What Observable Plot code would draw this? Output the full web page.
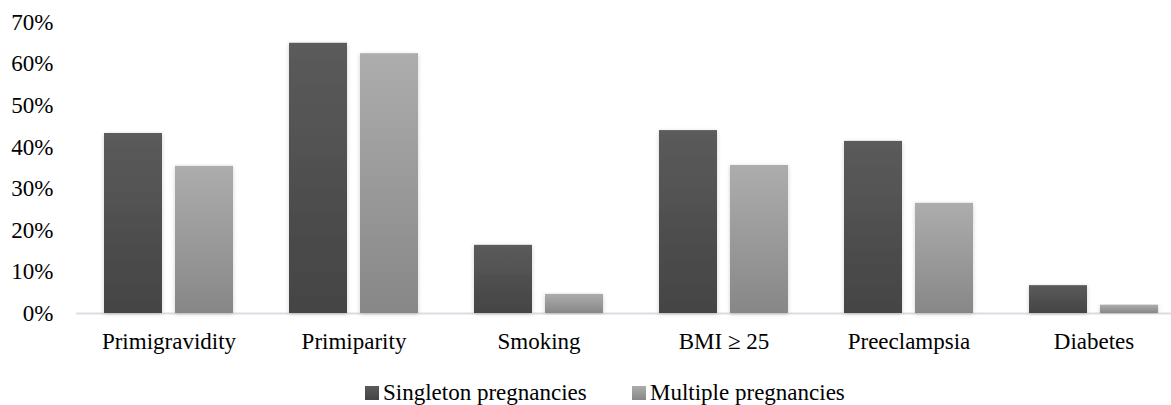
<!DOCTYPE html>
<html>
<head>
<meta charset="utf-8">
<script src="https://cdn.jsdelivr.net/npm/d3@7"></script>
<script src="https://cdn.jsdelivr.net/npm/@observablehq/plot@0.6"></script>
<style>
  html, body { margin: 0; padding: 0; background: #fff; }
  body { width: 1171px; height: 405px; overflow: hidden; font-family: "Liberation Serif", "Times New Roman", serif; }
  #chart svg { display: block; overflow: visible; }
  #legend { position: relative; height: 55px; font-size: 23px; color: #000; font-family: "Liberation Serif", "Times New Roman", serif; }
  .item { position: absolute; top: 30px; display: flex; align-items: center; white-space: nowrap; }
  .sw { width: 14px; height: 14px; margin-right: 4px; }
</style>
</head>
<body>
<div id="chart"></div>
<div id="legend"></div>
<script>
const categories = ["Primigravidity", "Primiparity", "Smoking", "BMI \u2265 25", "Preeclampsia", "Diabetes"];
const seriesNames = ["Singleton pregnancies", "Multiple pregnancies"];
const singleton = [0.433, 0.650, 0.164, 0.440, 0.414, 0.067];
const multiple = [0.354, 0.625, 0.046, 0.356, 0.265, 0.020];
const yTicks = [0, 0.1, 0.2, 0.3, 0.4, 0.5, 0.6, 0.7];

const rows = [];
categories.forEach((c, i) => {
  rows.push({category: c, series: seriesNames[0], value: singleton[i]});
  rows.push({category: c, series: seriesNames[1], value: multiple[i]});
});

const plot = Plot.plot({
  width: 1171,
  height: 350,
  marginTop: 22,
  marginBottom: 37,
  marginLeft: 76,
  marginRight: 0,
  style: {fontFamily: "'Liberation Serif', 'Times New Roman', serif", fontSize: "23px", color: "#000", background: "transparent"},
  fx: {domain: categories, range: [76, 1186], padding: 0, paddingInner: 0, paddingOuter: 0, label: null, axis: "bottom", tickSize: 0, tickPadding: 19},
  x: {domain: seriesNames, paddingInner: 0.183, paddingOuter: 0.394, axis: null},
  y: {domain: [0, 0.7], ticks: yTicks, tickFormat: d => Math.round(d * 100) + "%", tickSize: 0, tickPadding: 23, label: null},
  marks: [
    Plot.ruleY([0], {stroke: "#d9dee5", strokeWidth: 2}),
    Plot.barY(rows.filter(d => d.series === seriesNames[0]), {fx: "category", x: "series", y: "value", fill: "url(#gDark)"}),
    Plot.barY(rows.filter(d => d.series === seriesNames[1]), {fx: "category", x: "series", y: "value", fill: "url(#gLight)"})
  ]
});

const svg = d3.select(plot);
const defs = svg.insert("defs", ":first-child");
const f = defs.append("filter").attr("id", "shadow").attr("x", "-20%").attr("y", "-5%").attr("width", "140%").attr("height", "115%");
f.append("feDropShadow").attr("dx", 0).attr("dy", 1).attr("stdDeviation", 2).attr("flood-color", "#000").attr("flood-opacity", 0.18);
function grad(id, top, bottom) {
  const g = defs.append("linearGradient").attr("id", id).attr("x1", 0).attr("y1", 0).attr("x2", 0).attr("y2", 1);
  g.append("stop").attr("offset", "0%").attr("stop-color", top);
  g.append("stop").attr("offset", "100%").attr("stop-color", bottom);
}
grad("gDark", "#5b5b5b", "#444444");
grad("gLight", "#adadad", "#878787");
svg.selectAll("rect").attr("filter", "url(#shadow)");

document.getElementById("chart").appendChild(plot);

const legend = document.getElementById("legend");
const swatches = [
  {name: seriesNames[0], color: "linear-gradient(#5b5b5b, #444444)", left: 365},
  {name: seriesNames[1], color: "linear-gradient(#adadad, #878787)", left: 632}
];
swatches.forEach(s => {
  const item = document.createElement("div");
  item.className = "item";
  item.style.left = s.left + "px";
  const sw = document.createElement("span");
  sw.className = "sw";
  sw.style.background = s.color;
  const t = document.createElement("span");
  t.textContent = s.name;
  item.appendChild(sw);
  item.appendChild(t);
  legend.appendChild(item);
});
</script>
</body>
</html>
